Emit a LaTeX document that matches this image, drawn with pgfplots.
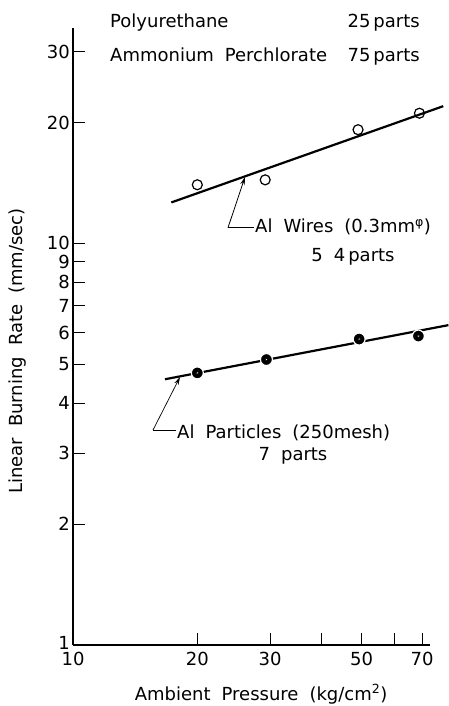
\documentclass[border=0pt]{standalone}
\usepackage{fontspec}
\setmainfont{DejaVu Sans}
\usepackage{pgfplots}
\pgfplotsset{compat=1.18}
\usetikzlibrary{arrows.meta}
\newcommand\myfont{\fontsize{18}{21}\selectfont\spaceskip=11pt plus 2pt minus 1pt\relax}
\begin{document}
\myfont
\begin{tikzpicture}[every node/.append style={font=\myfont}]
\useasboundingbox (-73pt,-61pt) rectangle (375pt,645pt);
\begin{loglogaxis}[
  at={(0pt,0pt)}, anchor=south west,
  scale only axis, width=357pt, height=617pt,
  xmin=10, xmax=73.2, ymin=1, ymax=34.4,
  axis lines*=left,
  axis line style={line width=1.6pt},
  clip=false,
  tick label style={font=\myfont},
  label style={font=\myfont},
  /pgf/number format/assume math mode=true,
  xtick={10,20,30,40,50,60,70},
  xticklabels={10,20,30,,50,,70},
  ytick={1,2,3,4,5,6,7,8,9,10,20,30},
  yticklabels={\raisebox{5pt}{1},2,3,4,5,6,7,8,9,10,20,30},
  minor xtick={}, minor ytick={},
  tick align=inside, major tick length=12pt,
  tick style={line width=1pt, black},
  yticklabel style={inner sep=3pt},
  xticklabel style={inner sep=7pt},
  xlabel={Ambient Pressure (kg/cm\textsuperscript{2})},
  ylabel={Linear Burning Rate (mm/sec)},
  xlabel style={at={(axis description cs:0.527,0)}, anchor=base, yshift=-55pt},
  ylabel style={at={(axis description cs:-0.154,0.4765)}, anchor=center},
]
% Al wires fit line and points
\addplot[black, line width=2.2pt] coordinates {(17.3,12.65) (78.8,21.97)};
\addplot[only marks, mark=o, mark size=5pt,
  mark options={fill=white, draw=black, line width=1.2pt}]
  coordinates {(20,14.0) (29.2,14.4) (49,19.2) (69,21.1)};
% Al particles fit line and points
\addplot[black, line width=2.2pt] coordinates {(16.7,4.59) (81.1,6.26)};
\addplot[only marks, mark=*, mark size=6pt,
  mark options={fill=black, draw=white, line width=1.2pt}]
  coordinates {(20,4.76) (29.4,5.14) (49.3,5.78) (68.6,5.88)};
\addplot[only marks, mark=*, mark size=1.2pt,
  mark options={fill=white, draw=none}]
  coordinates {(20,4.76) (29.4,5.14) (49.3,5.78) (68.6,5.88)};
\end{loglogaxis}
% header
\node[anchor=base west, inner sep=0pt] at (37pt,617pt) {Polyurethane};
\node[anchor=base west, inner sep=0pt] at (37pt,583.3pt) {Ammonium Perchlorate};
\node[anchor=base east, inner sep=0pt] at (347pt,617pt) {25\,parts};
\node[anchor=base east, inner sep=0pt] at (347pt,583.3pt) {75\,parts};
% wires annotation
\draw[line width=0.8pt] (181pt,417.3pt) -- (155pt,417.3pt);
\draw[line width=0.8pt, -{Stealth[length=8pt,width=4.5pt]}] (155pt,417.3pt) -- (172pt,468pt);
\node[anchor=base west, inner sep=0pt] at (182pt,412pt) {Al Wires (0.3mm\textsuperscript{φ})};
\node[anchor=base, inner sep=0pt] at (280pt,383.3pt) {5 4\,parts};
% particles annotation
\draw[line width=0.8pt] (103pt,215pt) -- (80pt,215pt);
\draw[line width=0.7pt, -{Stealth[length=8pt,width=4.5pt]}] (80pt,215pt) -- (107pt,268pt);
\node[anchor=base west, inner sep=0pt] at (104pt,206.7pt) {Al Particles (250mesh)};
\node[anchor=base, inner sep=0pt] at (220pt,184pt) {7 parts};
\end{tikzpicture}
\end{document}
